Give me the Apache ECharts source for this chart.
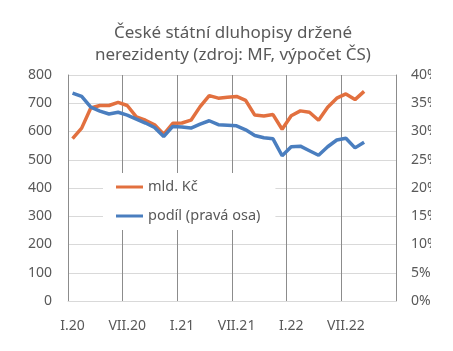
<!DOCTYPE html>
<html>
<head>
<meta charset="utf-8">
<script src="https://cdn.jsdelivr.net/npm/echarts@6/dist/echarts.min.js"></script>
<style>
  html, body { margin: 0; padding: 0; background: #fff; }
  #chart { width: 453px; height: 351px; }
</style>
</head>
<body>
<div id="chart"></div>
<script>
// měsíce I.20 .. XII.22
const romans = ["I", "II", "III", "IV", "V", "VI", "VII", "VIII", "IX", "X", "XI", "XII"];
const years = ["20", "21", "22"];
const months = [];
years.forEach(y => romans.forEach(r => months.push(r + "." + y)));

// mld. Kč (levá osa)
const mldKc = [575, 612, 683, 692, 692, 703, 692, 652, 640, 624, 590, 629,
               630, 640, 688, 727, 718, 721, 724, 710, 658, 655, 660, 608,
               656, 673, 668, 640, 686, 718, 733, 713, 742];
// podíl v % (pravá osa)
const podil = [36.8, 36.2, 34.3, 33.6, 33.1, 33.4, 32.9, 32.2, 31.5, 30.7, 29.1, 30.9,
               30.8, 30.6, 31.3, 31.9, 31.2, 31.1, 31.0, 30.3, 29.3, 28.9, 28.7, 25.7,
               27.3, 27.4, 26.6, 25.8, 27.3, 28.5, 28.8, 27.1, 28.1];

const leftTicks = [0, 800, 100];
const rightTicks = [0, 40, 5];

const txt = "#595959";
const font = "'Noto Sans', 'Open Sans', sans-serif";

const chart = echarts.init(document.getElementById("chart"));
chart.setOption({
  animation: false,
  title: {
    text: "České státní dluhopisy držené\nnerezidenty (zdroj: MF, výpočet ČS)",
    left: 233,
    top: 22,
    textAlign: "center",
    padding: 0,
    textStyle: { color: txt, fontSize: 17, fontWeight: "normal", fontFamily: font, lineHeight: 22 }
  },
  grid: { left: 68, right: 57, top: 75, bottom: 50 },
  legend: {
    orient: "vertical",
    left: 103,
    top: 173,
    padding: [5, 15, 5, 13],
    itemGap: 11,
    itemWidth: 27,
    itemHeight: 3,
    icon: "rect",
    backgroundColor: "#fff",
    textStyle: { color: txt, fontSize: 14.5, fontFamily: font, lineHeight: 18 },
    data: ["mld. Kč", "podíl (pravá osa)"]
  },
  xAxis: {
    type: "category",
    data: months,
    boundaryGap: true,
    axisLine: { lineStyle: { color: "#d9d9d9", width: 1 } },
    axisTick: { show: false },
    axisLabel: { interval: 5, color: txt, fontSize: 14, fontFamily: font, margin: 18 },
    splitLine: { show: true, interval: 5, lineStyle: { color: "#8c8c8c", width: 1 } }
  },
  yAxis: [
    {
      type: "value",
      min: leftTicks[0], max: leftTicks[1], interval: leftTicks[2],
      axisLine: { show: true, lineStyle: { color: "#8c8c8c" } },
      axisTick: { show: false },
      axisLabel: { color: txt, fontSize: 14, fontFamily: font, margin: 16 },
      splitLine: { lineStyle: { color: "#d9d9d9" } }
    },
    {
      type: "value",
      min: rightTicks[0], max: rightTicks[1], interval: rightTicks[2],
      axisLine: { show: true, lineStyle: { color: "#8c8c8c" } },
      axisTick: { show: false },
      axisLabel: { color: txt, fontSize: 14, fontFamily: font, margin: 15, formatter: "{value}%" },
      splitLine: { show: false }
    }
  ],
  graphic: [
    // obrázek je vpravo oříznutý
    { type: "rect", right: 0, top: 55, shape: { width: 22, height: 270 }, style: { fill: "#fff" }, z: 100 }
  ],
  series: [
    {
      name: "mld. Kč",
      type: "line",
      yAxisIndex: 0,
      data: mldKc,
      symbol: "none",
      lineStyle: { color: "#e2703f", width: 3.5 },
      itemStyle: { color: "#e2703f" }
    },
    {
      name: "podíl (pravá osa)",
      type: "line",
      yAxisIndex: 1,
      data: podil,
      symbol: "none",
      lineStyle: { color: "#4a7ebf", width: 3.5 },
      itemStyle: { color: "#4a7ebf" }
    }
  ]
});
</script>
</body>
</html>
